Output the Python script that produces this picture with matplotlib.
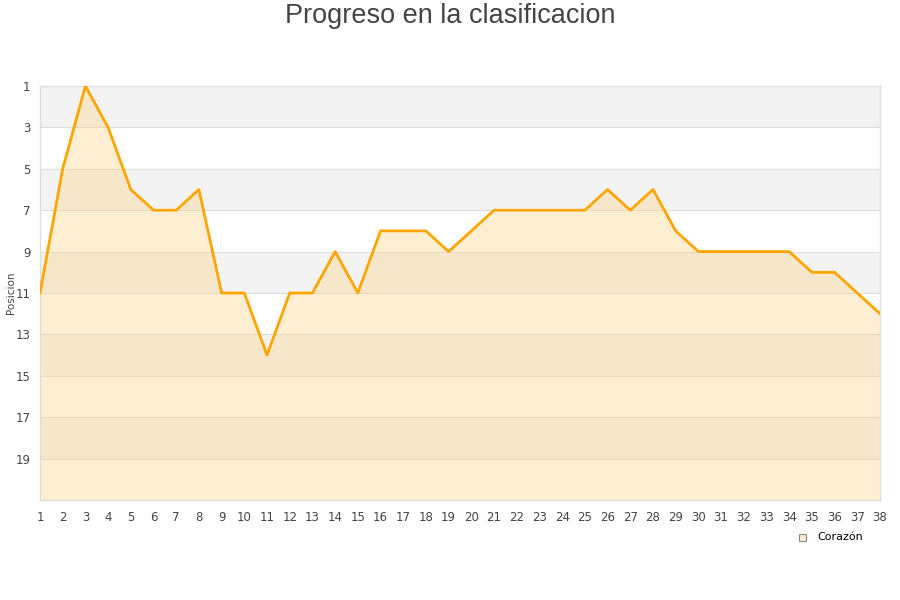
import matplotlib
matplotlib.use("Agg")
import matplotlib.pyplot as plt
from matplotlib.patches import Rectangle

jornadas = list(range(1, 39))
posiciones = [11, 5, 1, 3, 6, 7, 7, 6, 11, 11, 14, 11, 11, 9, 11, 8, 8, 8, 9, 8,
              7, 7, 7, 7, 7, 6, 7, 6, 8, 9, 9, 9, 9, 9, 10, 10, 11, 12]
y_ticks = [1, 3, 5, 7, 9, 11, 13, 15, 17, 19]
equipo = "Corazón"
titulo = "Progreso en la clasificacion"
y_label = "Posicion"

fig = plt.figure(figsize=(9, 6), dpi=100)
ax = fig.add_axes([40/900, 100/600, 840/900, 414/600])

ymin, ymax = 1, 21
# alternating bands
for i, lo in enumerate(range(1, 21, 2)):
    color = "#f3f3f3" if i % 2 == 0 else "#ffffff"
    ax.axhspan(lo, lo + 2, color=color, zorder=0, lw=0)
for t in y_ticks[1:]:
    ax.axhline(t, color="#dddddd", lw=0.8, zorder=1)

ax.fill_between(jornadas, posiciones, ymax, color="#ffd280", alpha=0.35, lw=0, zorder=2)
ax.plot(jornadas, posiciones, color="#ffa500", lw=2.0, zorder=3)

ax.set_xlim(1, 38)
ax.set_ylim(ymax, ymin)
ax.set_xticks(jornadas)
ax.set_xticklabels([str(j) for j in jornadas])
ax.set_yticks(y_ticks)
ax.tick_params(axis="both", length=0, labelsize=8.5, colors="#444444")
ax.tick_params(axis="x", pad=8)
ax.tick_params(axis="y", pad=7)
for s in ax.spines.values():
    s.set_color("#dddddd")
    s.set_linewidth(1)

fig.text(11/900, 1 - 293/600, y_label, rotation=90, ha="center", va="center",
         fontsize=7.5, color="#444444")
fig.text(0.5, 1 - 16/600, titulo, ha="center", va="center", fontsize=19.5,
         color="#444444", family="Liberation Sans")

# legend
fig.patches.append(Rectangle((799/900, 1 - 541/600), 7/900, 7/600, transform=fig.transFigure,
                             facecolor="#ffeecc", edgecolor="#888888", lw=0.8))
fig.text(817/900, 1 - 537/600, equipo, ha="left", va="center", fontsize=8, color="#000000")

fig.savefig("out.png", dpi=100)
